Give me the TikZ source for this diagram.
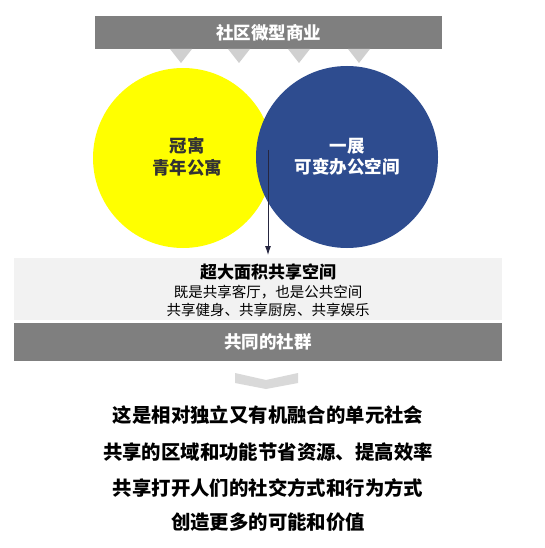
\documentclass[tikz,border=0pt]{standalone}
\usepackage{fontspec}
\usetikzlibrary{arrows.meta}
\newfontfamily\cjk{Noto Sans CJK SC}[BoldFont={Noto Sans CJK SC Black}]
\setmainfont{Noto Sans CJK SC}
\definecolor{bargray}{RGB}{127,127,127}
\definecolor{lightbox}{RGB}{242,242,242}
\definecolor{trigray}{RGB}{208,208,208}
\definecolor{chevgray}{RGB}{217,217,217}
\definecolor{cyellow}{RGB}{255,255,0}
\definecolor{cblue}{RGB}{46,76,143}
\definecolor{darktext}{RGB}{51,51,51}
\definecolor{arrowc}{RGB}{38,38,64}
\begin{document}
\begin{tikzpicture}[x=1pt,y=-1pt,
  bartext/.style={text=white,font=\cjk\bfseries\fontsize{17.5}{20}\selectfont},
  tri/.style={fill=trigray,draw=none},
  circtext/.style={align=center,font=\cjk\bfseries\fontsize{17.5}{21.5}\selectfont},
  subtext/.style={align=center,font=\cjk\fontsize{14.5}{18}\selectfont,text=black},
  bigline/.style={font=\cjk\bfseries\fontsize{19.4}{22}\selectfont,text=black}
]
\useasboundingbox (0,0) rectangle (544,548);
\fill[white] (0,0) rectangle (544,548);
% top bar
\fill[bargray] (95,16) rectangle (442,49);
\node[bartext] (top) at (268.5,33) {社区微型商业};
% triangles
\foreach \cx in {181,239,299,359}{
  \fill[tri] (\cx-11,49) -- (\cx+11,49) -- (\cx,63) -- cycle;
}
% circles
\fill[cyellow] (183,158) circle (90);
\fill[cblue] (347,157) circle (91);
\node[circtext,text=darktext] (yt) at (187,157) {冠寓\\青年公寓};
\node[circtext,text=white] (bt) at (347,157) {一展\\可变办公空间};
% light box
\fill[lightbox] (14,258) rectangle (502,320);
\coordinate (arrS) at (268,150);
\coordinate (arrE) at (268,255);
\draw[arrowc,line width=0.9pt,-{Latex[length=9pt,width=6pt]}] (arrS) -- (arrE);
\node[font=\cjk\bfseries\fontsize{17}{20}\selectfont,text=black] (lt) at (268,272) {超大面积共享空间};
\node[subtext] (l1) at (268,292) {既是共享客厅，也是公共空间};
\node[subtext] (l2) at (268,310) {共享健身、共享厨房、共享娱乐};
% dark bar
\fill[bargray] (14,323) rectangle (502,361);
\node[bartext] (community) at (268,342) {共同的社群};
% chevron
\fill[chevgray] (235,373) -- (266,380) -- (298,373) -- (298,383) -- (266,389) -- (235,383) -- cycle;
% bottom lines
\node[bigline] (b1) at (268,415) {这是相对独立又有机融合的单元社会};
\node[bigline] (b2) at (268,452) {共享的区域和功能节省资源、提高效率};
\node[bigline] (b3) at (268,488) {共享打开人们的社交方式和行为方式};
\node[bigline] (b4) at (268,522) {创造更多的可能和价值};
\end{tikzpicture}
\end{document}
